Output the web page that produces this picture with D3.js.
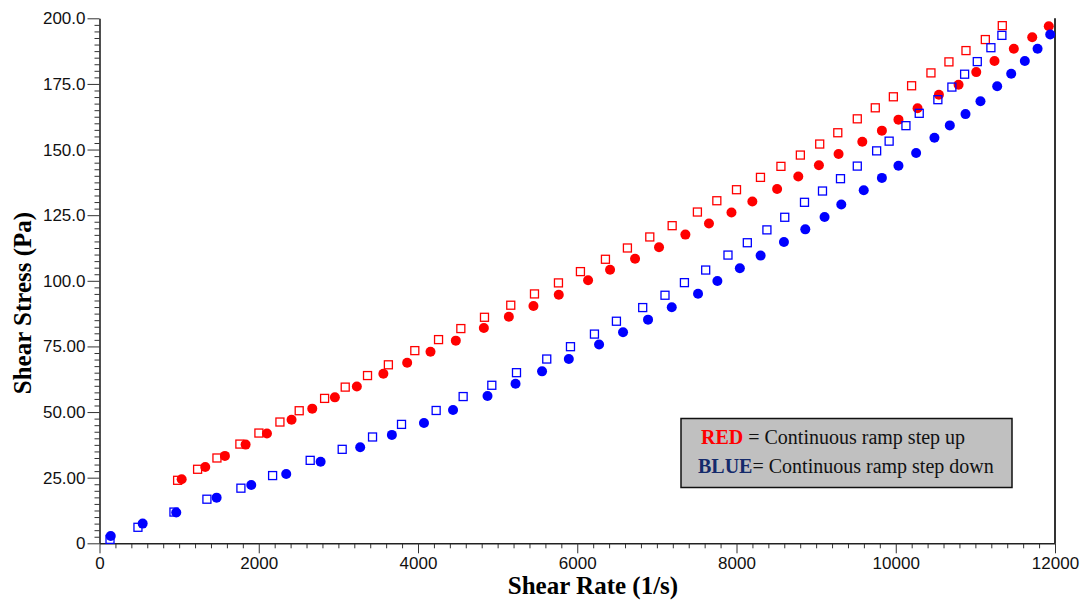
<!DOCTYPE html>
<html>
<head>
<meta charset="utf-8">
<script src="https://cdn.jsdelivr.net/npm/d3@7/dist/d3.min.js"></script>
<style>
  body { margin: 0; background: #fff; }
  svg { display: block; }
</style>
</head>
<body>
<script>
// Chart data: [shear rate (1/s), shear stress (Pa)]
var redUpCircles = [
  [1032, 24.4], [1328, 29.1], [1575, 33.3], [1835, 37.6], [2103, 41.8],
  [2412, 47.1], [2672, 51.3], [2956, 55.6], [3232, 59.7], [3565, 64.6],
  [3864, 68.8], [4157, 73.0], [4475, 77.2], [4827, 82.0], [5141, 86.3],
  [5450, 90.4], [5768, 94.7], [6136, 100.2], [6412, 104.2], [6726, 108.4],
  [7027, 112.8], [7358, 117.6], [7654, 121.8], [7937, 126.0], [8199, 130.2],
  [8510, 135.0], [8776, 139.7], [9035, 144.0], [9282, 148.3], [9580, 153.0],
  [9826, 157.2], [10034, 161.4], [10274, 165.7], [10542, 170.9], [10789, 174.7],
  [11011, 179.5], [11240, 183.7], [11483, 188.4], [11714, 192.8], [11922, 197.0]
];

var redUpSquares = [
  [981, 24.0], [1232, 28.2], [1475, 32.5], [1763, 37.8], [2002, 42.0],
  [2266, 46.2], [2508, 50.5], [2827, 55.2], [3086, 59.5], [3366, 63.9],
  [3628, 68.0], [3960, 73.4], [4258, 77.6], [4538, 81.8], [4835, 86.1],
  [5165, 90.7], [5463, 95.0], [5764, 99.2], [6040, 103.5], [6354, 108.2],
  [6630, 112.5], [6911, 116.7], [7192, 121.0], [7509, 126.2], [7753, 130.5],
  [8000, 134.7], [8301, 139.4], [8558, 143.6], [8802, 147.9], [9045, 152.1],
  [9272, 156.4], [9517, 161.7], [9743, 165.9], [9970, 170.1], [10199, 174.3],
  [10442, 179.2], [10668, 183.4], [10882, 187.7], [11125, 191.9], [11338, 197.2]
];

var blueDownCircles = [
  [141, 2.8], [542, 7.5], [964, 11.7], [1471, 17.4], [1906, 22.2],
  [2345, 26.4], [2777, 31.1], [3274, 36.6], [3672, 41.3], [4075, 45.8],
  [4440, 50.8], [4873, 56.1], [5225, 60.8], [5558, 65.5], [5894, 70.2],
  [6274, 75.7], [6575, 80.4], [6889, 85.2], [7187, 89.9], [7517, 95.1],
  [7760, 99.9], [8042, 104.8], [8303, 109.6], [8596, 114.8], [8864, 119.6],
  [9106, 124.3], [9316, 129.1], [9598, 134.5], [9826, 139.2], [10034, 143.8],
  [10256, 148.7], [10486, 154.5], [10679, 159.2], [10876, 163.5], [11064, 168.4],
  [11274, 174.1], [11450, 178.9], [11621, 183.7], [11781, 188.4], [11940, 193.8]
];

var blueDownSquares = [
  [132, 1.5], [483, 6.1], [935, 11.9], [1349, 16.8], [1776, 21.0],
  [2174, 25.8], [2646, 31.6], [3048, 35.8], [3429, 40.5], [3793, 45.3],
  [4228, 50.6], [4567, 55.9], [4927, 60.2], [5237, 65.0], [5617, 70.2],
  [5915, 74.9], [6216, 79.7], [6492, 84.6], [6822, 89.8], [7102, 94.5],
  [7346, 99.3], [7613, 104.1], [7893, 109.8], [8136, 114.5], [8382, 119.4],
  [8606, 124.2], [8854, 129.9], [9080, 134.2], [9306, 138.9], [9517, 143.7],
  [9760, 149.5], [9917, 153.2], [10128, 159.1], [10295, 163.8], [10529, 169.0],
  [10705, 173.8], [10865, 178.7], [11024, 183.5], [11195, 188.8], [11333, 193.5]
];

// Tick values and their labels
var xTicks = [0, 2000, 4000, 6000, 8000, 10000, 12000];
var yTicks = [0, 25, 50, 75, 100, 125, 150, 175, 200];
var yTickLabels = ["0", "25.00", "50.00", "75.00", "100.0", "125.0", "150.0", "175.0", "200.0"];

// SVG area
var svgWidth = 1084;
var svgHeight = 604;

var plot = { left: 99.5, right: 1055, top: 18.3, bottom: 543.3 };

var svg = d3.select("body")
  .append("svg")
  .attr("width", svgWidth)
  .attr("height", svgHeight);

var xScale = d3.scaleLinear()
  .domain([0, 12000])
  .range([plot.left, plot.right]);

var yScale = d3.scaleLinear()
  .domain([0, 200])
  .range([plot.bottom, plot.top]);

var tickFont = "'Liberation Sans', Arial, Helvetica, sans-serif";
var serifFont = "'Liberation Serif', 'Times New Roman', Times, serif";

// Minor ticks
var xMinor = d3.range(0, 12001, 200).filter(v => v % 2000 !== 0);
var yMinor = d3.range(0, 200.1, 2.5).filter(v => v % 25 !== 0);

svg.append("g")
  .attr("transform", `translate(0, ${plot.bottom})`)
  .call(d3.axisBottom(xScale).tickValues(xMinor).tickSize(5).tickFormat(""))
  .call(g => g.select(".domain").remove())
  .call(g => g.selectAll("line").attr("stroke", "#333"));

svg.append("g")
  .attr("transform", `translate(${plot.left}, 0)`)
  .call(d3.axisLeft(yScale).tickValues(yMinor).tickSize(5).tickFormat(""))
  .call(g => g.select(".domain").remove())
  .call(g => g.selectAll("line").attr("stroke", "#333"));

// Major ticks + labels
var xAxis = svg.append("g")
  .attr("transform", `translate(0, ${plot.bottom})`)
  .call(d3.axisBottom(xScale).tickValues(xTicks).tickSize(10).tickSizeOuter(0).tickPadding(4)
    .tickFormat(d3.format("d")));

var yAxis = svg.append("g")
  .attr("transform", `translate(${plot.left}, 0)`)
  .call(d3.axisLeft(yScale).tickValues(yTicks).tickSize(12).tickSizeOuter(0).tickPadding(2)
    .tickFormat((d, i) => yTickLabels[i]));

[xAxis, yAxis].forEach(function(g) {
  g.select(".domain").attr("stroke", "#222").attr("stroke-width", 1.6);
  g.selectAll("line").attr("stroke", "#333");
  g.selectAll("text")
    .style("font-family", tickFont)
    .style("font-size", "17px")
    .attr("fill", "#111");
});

// Right frame line
svg.append("line")
  .attr("x1", xScale(12000)).attr("x2", xScale(12000))
  .attr("y1", yScale(200)).attr("y2", yScale(0))
  .attr("stroke", "#333")
  .attr("stroke-width", 2);

// Axis titles
svg.append("text")
  .attr("x", 593)
  .attr("y", 594)
  .attr("text-anchor", "middle")
  .style("font-family", serifFont)
  .style("font-weight", "bold")
  .style("font-size", "25px")
  .text("Shear Rate (1/s)");

svg.append("text")
  .attr("transform", "translate(31, 303) rotate(-90)")
  .attr("text-anchor", "middle")
  .style("font-family", serifFont)
  .style("font-weight", "bold")
  .style("font-size", "25px")
  .text("Shear Stress (Pa)");

// Markers
var red = "#ff0000";
var blue = "#0000ff";
var sq = 8;

function drawSquares(data, color) {
  svg.append("g").selectAll("rect")
    .data(data)
    .enter()
    .append("rect")
    .attr("x", d => xScale(d[0]) - sq / 2)
    .attr("y", d => yScale(d[1]) - sq / 2)
    .attr("width", sq)
    .attr("height", sq)
    .attr("fill", "none")
    .attr("stroke", color)
    .attr("stroke-width", 1.3);
}

function drawCircles(data, color) {
  svg.append("g").selectAll("circle")
    .data(data)
    .enter()
    .append("circle")
    .attr("cx", d => xScale(d[0]))
    .attr("cy", d => yScale(d[1]))
    .attr("r", 5)
    .attr("fill", color);
}

drawSquares(redUpSquares, red);
drawCircles(redUpCircles, red);
drawSquares(blueDownSquares, blue);
drawCircles(blueDownCircles, blue);

// Legend box
var legend = svg.append("g");

legend.append("rect")
  .attr("x", 681)
  .attr("y", 418.5)
  .attr("width", 331)
  .attr("height", 69)
  .attr("fill", "#c0c0c0")
  .attr("stroke", "#111")
  .attr("stroke-width", 1.5);

var line1 = legend.append("text")
  .attr("x", 701)
  .attr("y", 444)
  .style("font-family", serifFont)
  .style("font-size", "20px");
line1.append("tspan").attr("fill", "#ff0000").style("font-weight", "bold").text("RED");
line1.append("tspan").attr("fill", "#111").text(" = Continuous ramp step up");

var line2 = legend.append("text")
  .attr("x", 698)
  .attr("y", 473)
  .style("font-family", serifFont)
  .style("font-size", "20px");
line2.append("tspan").attr("fill", "#142a6b").style("font-weight", "bold").text("BLUE");
line2.append("tspan").attr("fill", "#111").text("= Continuous ramp step down");
</script>
</body>
</html>
